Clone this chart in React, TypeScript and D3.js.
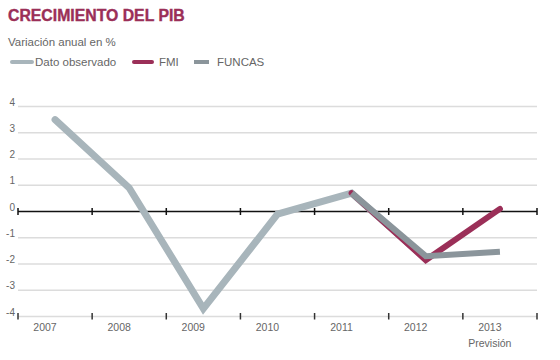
import React from "react";
import * as d3 from "d3";

const years = ["2007", "2008", "2009", "2010", "2011", "2012", "2013"];
const observed = [3.5, 0.9, -3.7, -0.1, 0.7, -1.8];
const fmiYears = ["2011", "2012", "2013"];
const fmi = [0.7, -1.85, 0.1];
const funcasYears = ["2011", "2012", "2013"];
const funcas = [0.7, -1.7, -1.53];
const yTicks = [4, 3, 2, 1, 0, -1, -2, -3, -4];

const W = 560, H = 360;
const left = 18, right = 537, top = 106.5, bottom = 316.5;

export default function App() {
  const x = d3.scaleBand<string>().domain(years).range([left, right]).padding(0);
  const y = d3.scaleLinear().domain([-4, 4]).range([bottom, top]);
  const cx = (d: string) => (x(d) as number) + x.bandwidth() / 2;
  const line = d3.line<[string, number]>().x(d => cx(d[0])).y(d => y(d[1]));
  const obsPts = observed.map((v, i) => [years[i], v] as [string, number]);
  const fmiPts = fmi.map((v, i) => [fmiYears[i], v] as [string, number]);
  const funPts = funcas.map((v, i) => [funcasYears[i], v] as [string, number]);
  const bounds = [...years.map(d => x(d) as number), right];
  const font = "Liberation Sans, Arial, sans-serif";
  return (
    <svg width={W} height={H} style={{ position: "absolute", left: 0, top: 0, background: "#fff" }} fontFamily={font}>
      <text x={8} y={21} fontSize={15.8} fontWeight="bold" fill="#9b2f58" stroke="#9b2f58" strokeWidth={0.4}>CRECIMIENTO DEL PIB</text>
      <text x={8} y={46} fontSize={11.5} fill="#666">Variación anual en %</text>
      <line x1={12} x2={32} y1={62} y2={62} stroke="#a8b5bb" strokeWidth={4} strokeLinecap="round" />
      <text x={35} y={66} fontSize={11.5} fill="#666">Dato observado</text>
      <line x1={134} x2={152} y1={62} y2={62} stroke="#9b2f58" strokeWidth={4} strokeLinecap="round" />
      <text x={159} y={66} fontSize={11.5} fill="#666">FMI</text>
      <line x1={194} x2={209} y1={62} y2={62} stroke="#8b959b" strokeWidth={4} />
      <text x={217} y={66} fontSize={11.5} fill="#666">FUNCAS</text>
      {yTicks.map(t => (
        <g key={t}>
          <line x1={left} x2={right} y1={y(t)} y2={y(t)} stroke={t === 0 ? "#111" : "#dcdcdc"} strokeWidth={1.5} />
          <text x={15} y={y(t) - 1} textAnchor="end" fontSize={10} fill="#666">{t}</text>
        </g>
      ))}
      {bounds.map((b, i) => (
        <g key={i}>
          <line x1={b} x2={b} y1={y(0) - 3.5} y2={y(0) + 3.5} stroke="#111" strokeWidth={1.5} />
          <line x1={b} x2={b} y1={y(-4) - 3.5} y2={y(-4) + 3} stroke="#333" strokeWidth={1.5} />
        </g>
      ))}
      {years.map(d => (
        <text key={d} x={(x(d) as number) + 27} y={331} textAnchor="middle" fontSize={10.5} fill="#666">{d}</text>
      ))}
      <text x={(x("2013") as number) + 27} y={347} textAnchor="middle" fontSize={10.5} fill="#666">Previsión</text>
      <path d={line(obsPts) || ""} fill="none" stroke="#a8b5bb" strokeWidth={7} strokeLinejoin="miter" strokeLinecap="round" />
      <path d={line(fmiPts) || ""} fill="none" stroke="#9b2f58" strokeWidth={6} strokeLinecap="round" />
      <path d={line(funPts) || ""} fill="none" stroke="#8b959b" strokeWidth={6} />
    </svg>
  );
}
